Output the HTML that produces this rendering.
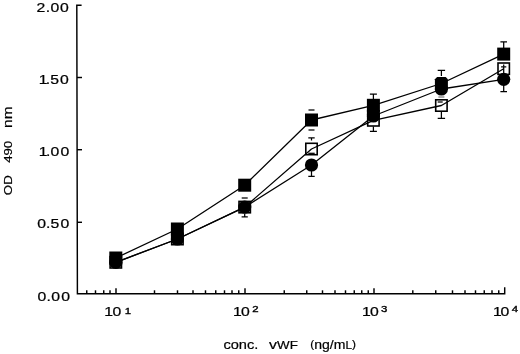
<!DOCTYPE html>
<html><head><meta charset="utf-8"><title>chart</title>
<style>
html,body{margin:0;padding:0;background:#fff;}
svg{display:block}
text{font-family:"Liberation Sans",sans-serif;fill:#000;stroke:#000;stroke-width:0.25px;}
text.t{stroke-width:0.2px;}
text.s{stroke-width:0.35px;}
</style></head><body>
<svg width="520" height="354" viewBox="0 0 520 354">
<rect width="520" height="354" fill="#fff"/>
<g stroke="#000" stroke-width="1.45" fill="none"><path d="M81.6 5.3H76.8L77.4 293.8H504.7V287.3"/><path d="M77 77.5H82"/><path d="M77 149.7H82"/><path d="M77 222.3H82"/><path d="M86.75 293.8V290.3"/><path d="M95.50 293.8V290.3"/><path d="M103.75 293.8V290.3"/><path d="M110.00 293.8V290.3"/><path d="M154.50 293.8V290.3"/><path d="M177.50 293.8V290.3"/><path d="M193.00 293.8V290.3"/><path d="M205.50 293.8V290.3"/><path d="M215.75 293.8V290.3"/><path d="M224.50 293.8V290.3"/><path d="M232.00 293.8V290.3"/><path d="M238.75 293.8V290.3"/><path d="M284.25 293.8V290.3"/><path d="M306.75 293.8V290.3"/><path d="M322.50 293.8V290.3"/><path d="M335.00 293.8V290.3"/><path d="M345.50 293.8V290.3"/><path d="M354.25 293.8V290.3"/><path d="M361.75 293.8V290.3"/><path d="M368.25 293.8V290.3"/><path d="M412.80 293.8V290.3"/><path d="M435.75 293.8V290.3"/><path d="M452.50 293.8V290.3"/><path d="M465.00 293.8V290.3"/><path d="M475.50 293.8V290.3"/><path d="M484.25 293.8V290.3"/><path d="M492.00 293.8V290.3"/><path d="M498.75 293.8V290.3"/><path d="M116.00 293.8V288.3"/><path d="M245.00 293.8V288.3"/><path d="M374.00 293.8V288.3"/></g>
<text transform="translate(0 11.6) scale(1.15 1)" x="31.75 39.71 43.99 52.16" y="0" font-size="13.7">2.00</text><text transform="translate(0 83.8) scale(1.15 1)" x="33.65 39.88 43.71 52.25" y="0" font-size="13.7">1.50</text><text transform="translate(0 155.8) scale(1.15 1)" x="33.65 39.97 43.99 52.68" y="0" font-size="13.7">1.00</text><text transform="translate(0 228.1) scale(1.15 1)" x="32.42 40.05 43.97 52.51" y="0" font-size="13.7">0.50</text><text transform="translate(0 300.5) scale(1.15 1)" x="32.68 40.40 44.68 53.20" y="0" font-size="13.7">0.00</text>
<text transform="translate(0 316.3) scale(1.15 1)" x="90.70 97.73" y="0" font-size="13.7">10</text><text class="s" transform="translate(0 314.0) scale(1.3 1)" x="95.95" y="0" font-size="8.8">1</text><text transform="translate(0 316.3) scale(1.15 1)" x="202.70 209.64" y="0" font-size="13.7">10</text><text class="s" transform="translate(0 312.3) scale(1.3 1)" x="194.02" y="0" font-size="8.8">2</text><text transform="translate(0 316.3) scale(1.15 1)" x="314.78 321.64" y="0" font-size="13.7">10</text><text class="s" transform="translate(0 312.4) scale(1.3 1)" x="293.05" y="0" font-size="8.8">3</text><text transform="translate(0 316.3) scale(1.15 1)" x="428.61 435.29" y="0" font-size="13.7">10</text><text class="s" transform="translate(0 312.0) scale(1.3 1)" x="393.64" y="0" font-size="8.8">4</text>
<text class="t" transform="translate(0 349) scale(1.1338 1)" x="197.03" y="0" font-size="12.9">conc.</text><text class="t" x="269.1" y="349" font-size="12.9" textLength="28.7" lengthAdjust="spacingAndGlyphs">v<tspan font-size="10.9">WF</tspan></text><text class="t" x="310.2" y="349" font-size="12.9" textLength="45.8" lengthAdjust="spacingAndGlyphs"><tspan font-size="10.9" dy="-0.8">(</tspan><tspan dy="0.8">ng/m</tspan><tspan font-size="10.9">L</tspan><tspan font-size="10.9" dy="-0.8">)</tspan></text><text class="t" transform="translate(12.4 194.5) rotate(-90) translate(0 0) scale(1.2147 1)" x="-0.52" y="0" font-size="10.9">OD</text><text class="t" transform="translate(12.4 194.5) rotate(-90) translate(0 0) scale(1.2107 1)" x="26.18" y="0" font-size="10.9">490</text><text class="t" transform="translate(12.4 194.5) rotate(-90) translate(0 0) scale(1.2448 1)" x="53.48" y="0" font-size="12.4">nm</text>
<g stroke="#000" stroke-width="1.3" fill="none" stroke-linejoin="round"><polyline points="115.8,258.0 177.4,229.0 244.7,185.2 311.5,120.0 373.4,105.3 441.4,83.5 503.7,54.1"/><polyline points="115.8,262.3 177.4,239.0 244.7,207.1 311.5,149.0 373.4,120.3 441.4,105.5 503.7,68.7"/><polyline points="115.8,262.3 177.4,239.0 244.7,207.1 311.5,165.0 373.4,116.0 441.4,89.0 503.7,79.3"/></g>
<g stroke="#000" stroke-width="1.25" fill="none"><path d="M241.7 198H247.7"/><path d="M244.7 214V216.8M241.6 216.8H247.8"/><path d="M308.5 110H314.5"/><path d="M308.5 130H314.5"/><path d="M311.5 140.5V137.9M308.3 137.9H314.7"/><path d="M308.3 153.3H314.7"/><path d="M311.5 171V176.3M308.3 176.3H314.7"/><path d="M373.4 99V94.2M369.9 94.2H376.9"/><path d="M373.4 126.5V131.4M369.9 131.4H376.9"/><path d="M441.4 76V70.4M437.7 70.4H445.1"/><path d="M437.7 102H442.7"/><path d="M441.4 112V118.4M437.7 118.4H445.1"/><path d="M503.7 48V41.9M500.4 41.9H507.0"/><path d="M503.7 74V66.8M501.1 66.8H506.3"/><path d="M503.7 64.5V66.8"/><path d="M503.7 85V91.6M500.4 91.6H507.0"/><path d="M438.4 97H444.4" stroke="#777"/></g>
<g stroke="#000" stroke-width="1.6"><rect x="110.10" y="256.60" width="11.4" height="11.4" fill="none"/><rect x="171.70" y="233.30" width="11.4" height="11.4" fill="none"/><rect x="239.00" y="201.40" width="11.4" height="11.4" fill="none"/><rect x="305.80" y="143.30" width="11.4" height="11.4" fill="none"/><rect x="367.70" y="114.60" width="11.4" height="11.4" fill="none"/><rect x="435.70" y="99.80" width="11.4" height="11.4" fill="none"/><rect x="498.00" y="63.00" width="11.4" height="11.4" fill="none"/></g>
<g fill="#000"><circle cx="115.8" cy="262.3" r="6.6"/><circle cx="177.4" cy="239.0" r="6.6"/><circle cx="244.7" cy="207.1" r="6.6"/><circle cx="311.5" cy="165.0" r="6.6"/><circle cx="373.4" cy="116.0" r="6.6"/><circle cx="441.4" cy="89.0" r="6.6"/><circle cx="503.7" cy="79.3" r="6.6"/><rect x="109.30" y="251.50" width="13.0" height="13.0"/><rect x="170.90" y="222.50" width="13.0" height="13.0"/><rect x="238.20" y="178.70" width="13.0" height="13.0"/><rect x="305.00" y="113.50" width="13.0" height="13.0"/><rect x="366.90" y="98.80" width="13.0" height="13.0"/><path d="M437.10 77.00H445.70L447.90 79.20V90.00H434.90V79.20Z"/><rect x="497.20" y="47.60" width="13.0" height="13.0"/><rect x="366.90" y="110" width="13.0" height="5"/></g>
</svg></body></html>
